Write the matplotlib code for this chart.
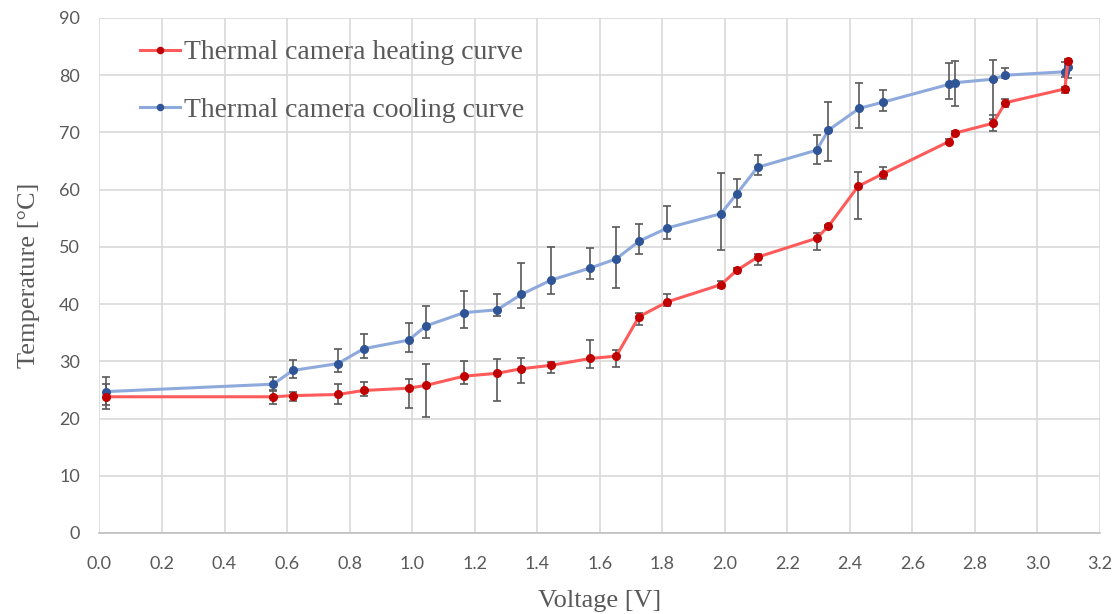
import matplotlib
matplotlib.use("Agg")
import matplotlib.pyplot as plt
import numpy as np

# Heating curve
V_h = [0.02, 0.556, 0.618, 0.763, 0.845, 0.989, 1.045, 1.166, 1.272, 1.350, 1.445, 1.570, 1.653, 1.726,
       1.817, 1.988, 2.039, 2.105, 2.294, 2.332, 2.427, 2.507, 2.717, 2.738, 2.858, 2.898, 3.088, 3.098]
T_h = [23.8, 23.8, 24.0, 24.2, 24.9, 25.3, 25.8, 27.4, 27.9, 28.7, 29.3, 30.5, 30.9, 37.8,
       40.4, 43.4, 45.9, 48.2, 51.5, 53.6, 60.6, 62.8, 68.4, 69.9, 71.6, 75.2, 77.6, 82.5]
err_h_up = [2.2, 1.2, 0.7, 1.9, 1.4, 1.6, 3.8, 2.7, 2.5, 1.8, 0.6, 3.2, 1.0, 0.7,
            1.4, 0.7, 0.4, 0.5, 0.9, 0.3, 2.5, 1.2, 0.5, 0.3, 1.4, 0.7, 0.4, 0.3]
err_h_lo = [2.2, 1.2, 0.9, 1.7, 0.9, 3.5, 5.5, 1.3, 4.9, 2.5, 1.3, 1.6, 1.9, 1.4,
            0.8, 0.6, 0.4, 1.3, 2.0, 0.3, 5.8, 0.9, 0.5, 0.3, 1.3, 0.7, 0.7, 0.3]

# Cooling curve
V_c = [0.02, 0.556, 0.618, 0.763, 0.845, 0.989, 1.045, 1.166, 1.272, 1.350, 1.445, 1.570, 1.653, 1.726,
       1.817, 1.988, 2.039, 2.105, 2.294, 2.332, 2.430, 2.507, 2.717, 2.738, 2.858, 2.898, 3.088, 3.098]
T_c = [24.7, 26.0, 28.4, 29.6, 32.2, 33.7, 36.2, 38.5, 39.0, 41.7, 44.2, 46.3, 47.9, 51.0,
       53.3, 55.8, 59.3, 63.9, 66.9, 70.4, 74.2, 75.3, 78.4, 78.7, 79.3, 80.0, 80.6, 81.5]
err_c_up = [2.6, 1.3, 1.8, 2.6, 2.6, 3.0, 3.5, 3.7, 2.7, 5.4, 5.8, 3.5, 5.5, 3.0,
            3.8, 7.1, 2.6, 2.2, 2.6, 5.0, 4.4, 2.1, 3.8, 3.7, 3.4, 1.2, 1.7, 0.9]
err_c_lo = [2.4, 1.2, 1.4, 1.5, 1.7, 2.0, 2.2, 2.7, 1.0, 2.4, 2.5, 1.9, 5.1, 2.2,
            2.0, 6.3, 2.3, 1.4, 2.4, 5.4, 3.5, 1.5, 2.6, 4.1, 7.0, 0.5, 1.0, 2.0]

x_ticks = [0.0, 0.2, 0.4, 0.6, 0.8, 1.0, 1.2, 1.4, 1.6, 1.8, 2.0, 2.2, 2.4, 2.6, 2.8, 3.0, 3.2]
y_ticks = [0, 10, 20, 30, 40, 50, 60, 70, 80, 90]

label_h = "Thermal camera heating curve"
label_c = "Thermal camera cooling curve"

serif = ["Liberation Serif", "DejaVu Serif"]
sans = ["Lato", "DejaVu Sans"]

fig = plt.figure(figsize=(11.2, 6.14), dpi=100)
ax = fig.add_axes([0.0888, 0.132, 0.8932, 0.8387])

ax.errorbar(V_c, T_c, yerr=[err_c_lo, err_c_up], fmt="none", ecolor="#595959",
            elinewidth=1.2, capsize=3, capthick=1.2, zorder=2)
ax.errorbar(V_h, T_h, yerr=[err_h_lo, err_h_up], fmt="none", ecolor="#595959",
            elinewidth=1.2, capsize=3, capthick=1.2, zorder=2)
lc, = ax.plot(V_c, T_c, color="#8EA9DB", lw=2.2, marker="o", ms=5.5,
              mfc="#2F5597", mec="#2F5597", zorder=3, label=label_c)
lh, = ax.plot(V_h, T_h, color="#FF5B5B", lw=2.2, marker="o", ms=5.5,
              mfc="#C00000", mec="#C00000", zorder=4, label=label_h)

ax.set_xlim(0, 3.2)
ax.set_ylim(0, 90)
ax.set_xticks(x_ticks)
ax.set_yticks(y_ticks)
ax.set_xticklabels([f"{t:.1f}" for t in x_ticks], fontfamily=sans, fontsize=13, color="#595959")
ax.set_yticklabels([str(t) for t in y_ticks], fontfamily=sans, fontsize=13, color="#595959")
ax.tick_params(axis="x", length=0, pad=16.5)
ax.tick_params(axis="y", length=0, pad=14)
ax.grid(True, color="#D9D9D9", lw=1.2)
ax.set_axisbelow(True)
for s in ["top", "right", "left"]:
    ax.spines[s].set_visible(False)
ax.spines["bottom"].set_color("#BFBFBF")
ax.spines["bottom"].set_linewidth(1.2)

ax.set_xlabel("Voltage [V]", fontfamily=serif, fontsize=19, color="#595959", labelpad=13)
ax.set_ylabel("Temperature [°C]", fontfamily=serif, fontsize=19, color="#595959", labelpad=14)

leg = ax.legend(handles=[lh, lc], loc="upper left", bbox_to_anchor=(0.0155, 1.006),
                frameon=False, prop={"family": serif, "size": 20}, labelcolor="#595959",
                handlelength=1.45, handletextpad=0.12, labelspacing=1.15, markerscale=0.8)

fig.savefig("out.png", dpi=100)
